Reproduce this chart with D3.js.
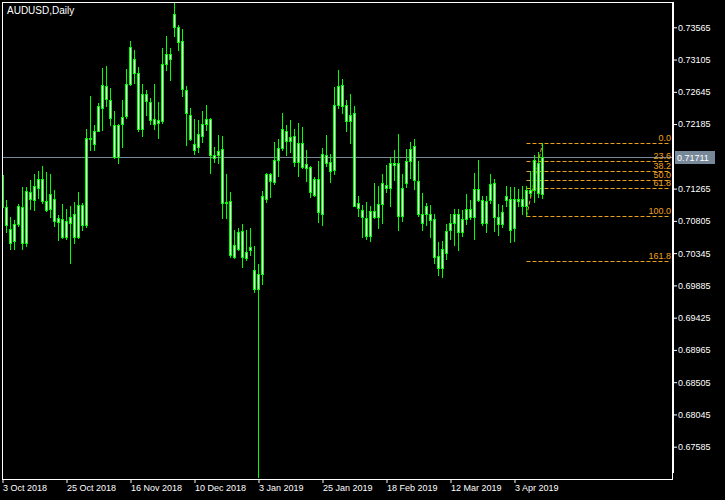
<!DOCTYPE html>
<html><head><meta charset="utf-8">
<script src="https://cdn.jsdelivr.net/npm/d3@7"></script>
<style>
body{margin:0;background:#000;}
svg{display:block;}
text{font-family:"Liberation Sans",Arial,sans-serif;}
</style>
</head><body>
<svg id="c" width="725" height="500"></svg>
<script>
const symbolTitle = "AUDUSD,Daily";
const openP = [0.7146,0.7100,0.7069,0.7052,0.7076,0.7100,0.7049,0.7121,0.7110,0.7128,
0.7140,0.7109,0.7097,0.7112,0.7079,0.7083,0.7057,0.7078,0.7090,0.7058,
0.7103,0.7074,0.7199,0.7190,0.7209,0.7242,0.7273,0.7253,0.7217,0.7171,
0.7218,0.7230,0.7275,0.7312,0.7292,0.7212,0.7262,0.7250,0.7226,0.7220,
0.7223,0.7304,0.7318,0.7357,0.7357,0.7337,0.7267,0.7232,0.7190,0.7186,
0.7201,0.7218,0.7226,0.7174,0.7175,0.7183,0.7106,0.7109,0.7029,0.7041,
0.7066,0.7027,0.7039,0.7010,0.6983,0.7005,0.7112,0.7147,0.7136,0.7168,
0.7184,0.7209,0.7194,0.7202,0.7165,0.7191,0.7156,0.7157,0.7117,0.7140,
0.7090,0.7174,0.7164,0.7153,0.7246,0.7274,0.7245,0.7223,0.7234,0.7106,
0.7096,0.7084,0.7059,0.7094,0.7086,0.7104,0.7132,0.7128,0.7163,0.7163,
0.7087,0.7134,0.7166,0.7187,0.7138,0.7091,0.7090,0.7090,0.7083,0.7031,
0.7014,0.7034,0.7067,0.7078,0.7091,0.7064,0.7083,0.7098,0.7086,0.7126,
0.7110,0.7077,0.7110,0.7134,0.7086,0.7076,0.7110,0.7111,0.7070,0.7112,
0.7112,0.7102,0.7125,0.7124,0.7163,0.7119];
const highP = [0.7184,0.7110,0.7086,0.7082,0.7105,0.7129,0.7129,0.7139,0.7147,0.7151,
0.7159,0.7150,0.7148,0.7125,0.7089,0.7105,0.7098,0.7102,0.7108,0.7122,
0.7106,0.7211,0.7258,0.7217,0.7248,0.7298,0.7301,0.7270,0.7237,0.7219,
0.7253,0.7297,0.7337,0.7324,0.7300,0.7276,0.7267,0.7255,0.7276,0.7250,
0.7327,0.7344,0.7327,0.7392,0.7360,0.7354,0.7273,0.7241,0.7226,0.7224,
0.7237,0.7246,0.7227,0.7186,0.7203,0.7201,0.7147,0.7122,0.7067,0.7070,
0.7076,0.7067,0.7070,0.7045,0.7019,0.7123,0.7149,0.7149,0.7193,0.7197,
0.7235,0.7217,0.7224,0.7211,0.7220,0.7215,0.7182,0.7159,0.7143,0.7166,
0.7184,0.7203,0.7176,0.7271,0.7295,0.7283,0.7253,0.7262,0.7244,0.7116,
0.7103,0.7108,0.7102,0.7134,0.7130,0.7147,0.7160,0.7172,0.7182,0.7205,
0.7148,0.7183,0.7193,0.7197,0.7166,0.7120,0.7106,0.7103,0.7091,0.7051,
0.7052,0.7076,0.7090,0.7097,0.7097,0.7096,0.7119,0.7110,0.7149,0.7167,
0.7116,0.7116,0.7147,0.7140,0.7105,0.7103,0.7130,0.7129,0.7129,0.7126,
0.7130,0.7130,0.7152,0.7174,0.7178,0.71911];
const lowP = [0.7099,0.7064,0.7041,0.7040,0.7073,0.7041,0.7044,0.7098,0.7096,0.7113,
0.7106,0.7094,0.7086,0.7073,0.7053,0.7056,0.7054,0.7020,0.7049,0.7056,
0.7067,0.7072,0.7182,0.7182,0.7208,0.7210,0.7244,0.7217,0.7170,0.7163,
0.7186,0.7227,0.7274,0.7277,0.7209,0.7201,0.7231,0.7219,0.7211,0.7198,
0.7220,0.7296,0.7281,0.7344,0.7324,0.7258,0.7189,0.7196,0.7176,0.7179,
0.7193,0.7210,0.7149,0.7165,0.7163,0.7084,0.7084,0.7029,0.7028,0.7039,
0.7015,0.7024,0.7032,0.6979,0.6716,0.6991,0.7107,0.7115,0.7133,0.7145,
0.7182,0.7174,0.7178,0.7159,0.7145,0.7156,0.7138,0.7114,0.7116,0.7079,
0.7074,0.7159,0.7136,0.7148,0.7241,0.7235,0.7209,0.7192,0.7101,0.7087,
0.7058,0.7055,0.7052,0.7084,0.7070,0.7078,0.7122,0.7102,0.7139,0.7067,
0.7081,0.7129,0.7141,0.7126,0.7088,0.7067,0.7074,0.7057,0.7020,0.7003,
0.7001,0.7026,0.7055,0.7046,0.7039,0.7059,0.7076,0.7083,0.7055,0.7109,
0.7074,0.7064,0.7106,0.7066,0.7061,0.7072,0.7102,0.7051,0.7052,0.7101,
0.7090,0.7087,0.7116,0.7108,0.7114,0.7113];
const closeP = [0.7100,0.7074,0.7049,0.7076,0.7101,0.7049,0.7123,0.7111,0.7130,0.7140,
0.7109,0.7096,0.7119,0.7080,0.7084,0.7058,0.7080,0.7086,0.7058,0.7103,
0.7074,0.7199,0.7197,0.7208,0.7244,0.7274,0.7254,0.7227,0.7171,0.7217,
0.7228,0.7275,0.7328,0.7292,0.7212,0.7261,0.7252,0.7225,0.7219,0.7224,
0.7304,0.7318,0.7312,0.7376,0.7336,0.7268,0.7234,0.7197,0.7182,0.7204,
0.7218,0.7226,0.7175,0.7170,0.7180,0.7106,0.7108,0.7032,0.7046,0.7065,
0.7029,0.7036,0.7043,0.6983,0.7005,0.7116,0.7148,0.7138,0.7168,0.7184,
0.7212,0.7194,0.7200,0.7165,0.7191,0.7158,0.7162,0.7121,0.7140,0.7093,
0.7176,0.7163,0.7152,0.7245,0.7273,0.7244,0.7223,0.7232,0.7102,0.7099,
0.7086,0.7059,0.7094,0.7086,0.7105,0.7135,0.7128,0.7163,0.7160,0.7087,
0.7127,0.7166,0.7183,0.7139,0.7091,0.7077,0.7101,0.7082,0.7029,0.7013,
0.7041,0.7066,0.7078,0.7090,0.7064,0.7083,0.7098,0.7086,0.7126,0.7110,
0.7078,0.7109,0.7133,0.7086,0.7076,0.7093,0.7116,0.7068,0.7111,0.7109,
0.7102,0.7125,0.7120,0.7167,0.7120,0.71711];

const dateTickIndex = [0,16,32,48,64,80,96,112,128];
const dateTickLabels = ["3 Oct 2018","25 Oct 2018","16 Nov 2018","10 Dec 2018","3 Jan 2019","25 Jan 2019","18 Feb 2019","12 Mar 2019","3 Apr 2019"];
const priceTicks = [0.73565,0.73105,0.72645,0.72185,0.71265,0.70805,0.70345,0.69885,0.69425,0.68965,0.68505,0.68045,0.67585];
const bidPrice = 0.71711;
const fibHigh = 0.71911, fibLow = 0.7087;
const fibStartIndex = 131, fibEndIndex = 135;
const fibLevels = [0, 23.6, 38.2, 50, 61.8, 100, 161.8];
const fibLabels = ["0.0","23.6","38.2","50.0","61.8","100.0","161.8"];

const candles = openP.map((o,i)=>({i, o, h:highP[i], l:lowP[i], c:closeP[i]}));

const svg = d3.select("#c");
svg.append("rect").attr("width",725).attr("height",500).attr("fill","#000");

const x = d3.scaleLinear().domain([0, 135]).range([2.5, 542.5]);
const y = d3.scaleLinear().domain([0.73565, 0.67585]).range([27.3, 446.7]);

svg.append("clipPath").attr("id","plot").append("rect")
  .attr("x",2).attr("y",2).attr("width",670).attr("height",477);

const plot = svg.append("g").attr("clip-path","url(#plot)");

// bid line
plot.append("line").attr("x1",2).attr("x2",672)
  .attr("y1",Math.round(y(bidPrice))+0.5).attr("y2",Math.round(y(bidPrice))+0.5)
  .attr("stroke","#778899").attr("stroke-width",1);

// fibonacci
const fibColor = "#f0a020";
const fibY = p => y(fibHigh - (fibHigh - fibLow) * p / 100);
const fg = plot.append("g");
fg.selectAll("line.fib").data(fibLevels).join("line")
  .attr("x1", x(fibStartIndex)).attr("x2", 670)
  .attr("y1", d=>Math.round(fibY(d))+0.5).attr("y2", d=>Math.round(fibY(d))+0.5)
  .attr("stroke", fibColor).attr("stroke-dasharray","4,2");
fg.append("line")
  .attr("x1", x(fibStartIndex)).attr("y1", y(fibLow))
  .attr("x2", x(fibEndIndex)).attr("y2", y(fibHigh))
  .attr("stroke", fibColor).attr("stroke-dasharray","4,2");
fg.selectAll("text").data(fibLevels).join("text")
  .attr("x", 671).attr("y", d=>Math.round(fibY(d))-2)
  .attr("text-anchor","end").attr("fill", fibColor).attr("font-size","9px")
  .text((d,i)=>fibLabels[i]);

// candles
const cg = plot.append("g");
cg.selectAll("line.w").data(candles).join("line")
  .attr("x1", d=>x(d.i)).attr("x2", d=>x(d.i))
  .attr("y1", d=>Math.round(y(d.h))).attr("y2", d=>Math.round(y(d.l))+1)
  .attr("stroke","#00ff00").attr("stroke-width",1);
cg.selectAll("rect.b").data(candles).join("rect")
  .attr("x", d=>x(d.i)-1).attr("width",2)
  .attr("y", d=>Math.round(y(Math.max(d.o,d.c)))+0.5)
  .attr("height", d=>Math.max(0, Math.round(y(Math.min(d.o,d.c))) - Math.round(y(Math.max(d.o,d.c)))))
  .attr("fill","#ffffff").attr("stroke","#00ff00").attr("stroke-width",1);

// frame
svg.append("rect").attr("x",2.5).attr("y",2.5).attr("width",670).attr("height",477)
  .attr("fill","none").attr("stroke","#fff");
svg.append("line").attr("x1",673.5).attr("x2",673.5).attr("y1",2).attr("y2",473).attr("stroke","#fff");

// title
svg.append("text").attr("x",7).attr("y",14).attr("fill","#fff").attr("font-size","10px").text(symbolTitle);

// price axis
const ya = svg.append("g").attr("transform","translate(674,0)")
  .call(d3.axisRight(y).tickValues(priceTicks).tickSize(3).tickPadding(1).tickFormat(d3.format(".5f")));
ya.select(".domain").remove();
ya.selectAll("line").attr("stroke","#fff");
ya.selectAll("text").attr("fill","#fff").attr("font-size","9px").attr("font-family","Liberation Sans, Arial, sans-serif");

// bid label
const by = Math.round(y(bidPrice));
svg.append("rect").attr("x",675).attr("y",by-6).attr("width",40).attr("height",13).attr("fill","#778899");
svg.append("text").attr("x",677).attr("y",by+4).attr("fill","#fff").attr("font-size","9px").text(d3.format(".5f")(bidPrice));

// time axis
const xa = svg.append("g").attr("transform","translate(0,479)")
  .call(d3.axisBottom(x).tickValues(dateTickIndex).tickSize(4).tickPadding(2).tickFormat((d,i)=>dateTickLabels[i]));
xa.select(".domain").remove();
xa.selectAll("line").attr("stroke","#fff");
xa.selectAll("text").attr("fill","#fff").attr("font-size","9px").attr("text-anchor","start")
  .attr("font-family","Liberation Sans, Arial, sans-serif");
</script>
</body></html>
